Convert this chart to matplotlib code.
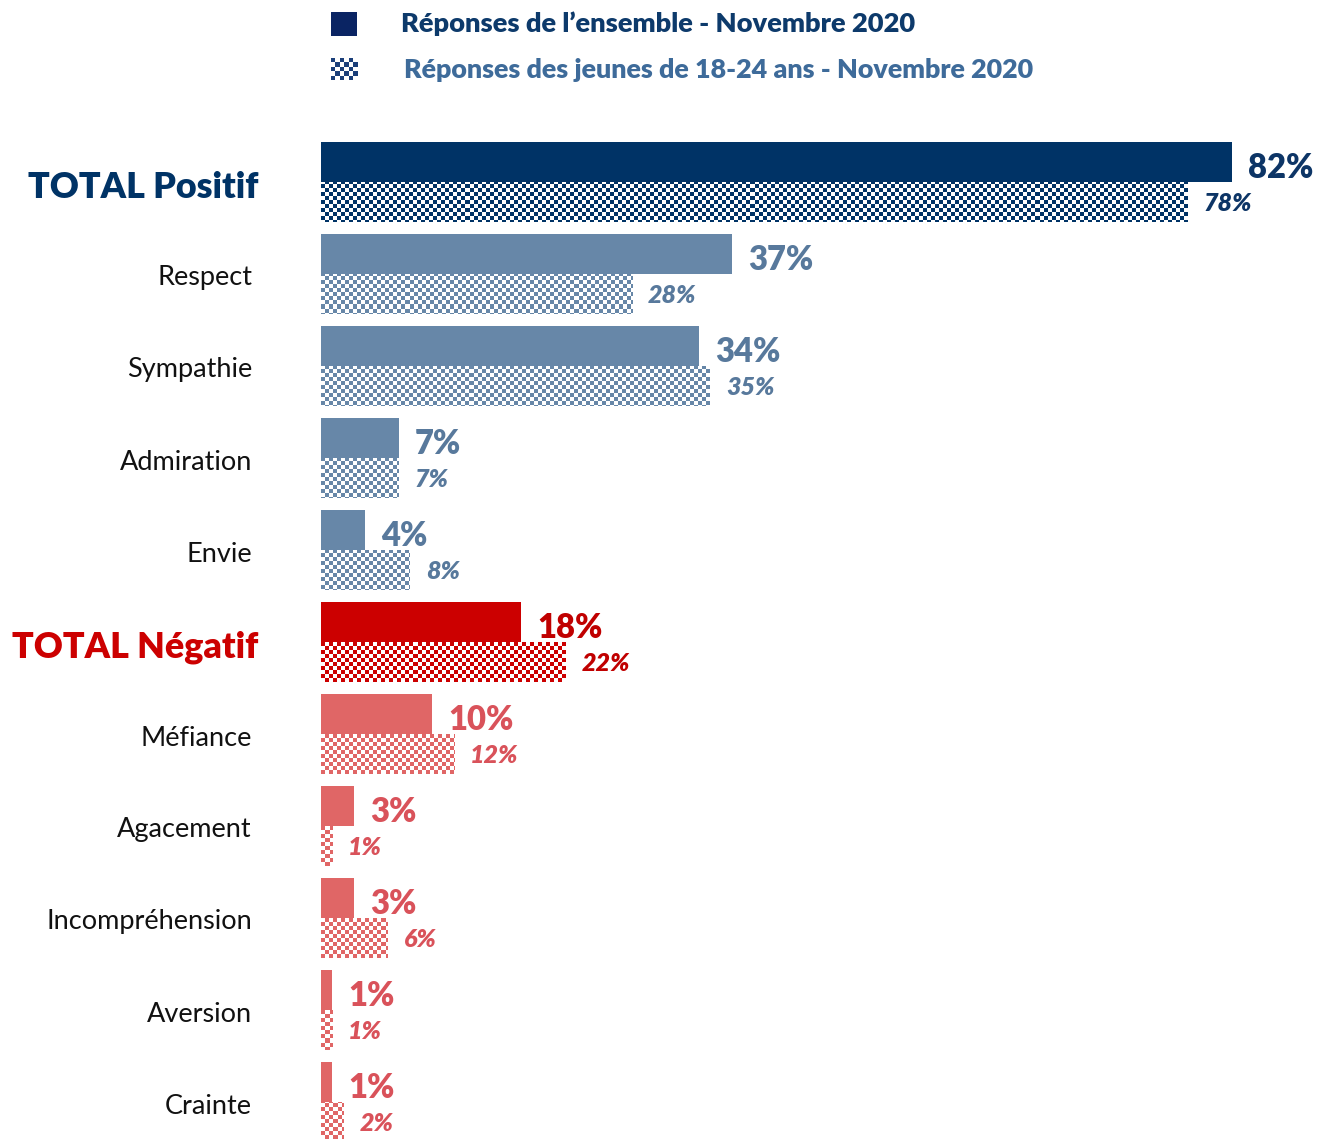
import numpy as np
import matplotlib
matplotlib.use("Agg")
import matplotlib.pyplot as plt

plt.rcParams['font.family'] = ['Lato', 'DejaVu Sans']

# data
categories = ["TOTAL Positif", "Respect", "Sympathie", "Admiration", "Envie",
              "TOTAL Négatif", "Méfiance", "Agacement", "Incompréhension",
              "Aversion", "Crainte"]
ensemble = [82, 37, 34, 7, 4, 18, 10, 3, 3, 1, 1]
jeunes = [78, 28, 35, 7, 8, 22, 12, 1, 6, 1, 2]
legend_labels = ["Réponses de l’ensemble - Novembre 2020",
                 "Réponses des jeunes de 18-24 ans - Novembre 2020"]

# colours per row
navy = '#003366'
steel = '#6787a8'
red = '#cc0000'
pink = '#e06666'
bar_colors = [navy] + [steel] * 4 + [red] + [pink] * 5
value_colors = ['#0d3566'] + ['#58799c'] * 4 + ['#c00000'] + ['#d9525a'] * 5

W, H = 1320, 1139
fig = plt.figure(figsize=(W / 100, H / 100), dpi=100)

# axes placed so that bars start at x=321 px, 11.11 px per percent
ax_left, ax_right = 321, 1320
ax_top, ax_bot = 136, 1139
ax = fig.add_axes([ax_left / W, 1 - ax_bot / H, (ax_right - ax_left) / W, (ax_bot - ax_top) / H])
px_per_pct = 911 / 82
xmax = (ax_right - ax_left) / px_per_pct
group_px = 92
n_groups = (ax_bot - ax_top) / group_px
ax.set_xlim(0, xmax)
ax.set_ylim(-0.5 + n_groups, -0.5)
ax.axis('off')

y = np.arange(len(categories))
h = 40 / group_px


def checker(color, nx, ny):
    rgb = np.array(matplotlib.colors.to_rgb(color))
    ii, jj = np.indices((ny, nx))
    mask = (ii + jj) % 2 == 0
    img = np.ones((ny, nx, 3))
    img[mask] = rgb
    return img


cell = 4  # px
nx = int((ax_right - ax_left) / cell)
ny = int((ax_bot - ax_top) / cell)

solid = ax.barh(y - h / 2, ensemble, height=h, color=bar_colors, linewidth=0)
hatched = ax.barh(y + h / 2, jeunes, height=h, color='white', linewidth=0)

for i, patch in enumerate(hatched):
    im = ax.imshow(checker(bar_colors[i], nx, ny), extent=(0, xmax, ax.get_ylim()[0], -0.5),
                   interpolation='nearest', aspect='auto', zorder=2)
    im.set_clip_path(patch)

gap = 16 / px_per_pct
for i in range(len(categories)):
    ax.text(ensemble[i] + gap, y[i] - h / 2 + 0.06, f"{ensemble[i]}%", color=value_colors[i],
            fontsize=23.6, fontweight='heavy', va='center', ha='left')
    ax.text(jeunes[i] + gap, y[i] + h / 2 + 0.02, f"{jeunes[i]}%", color=value_colors[i],
            fontsize=18, fontweight='heavy', fontstyle='italic', va='center', ha='left')

# category labels
for i, cat in enumerate(categories):
    ypx = 182 + i * group_px
    if cat.startswith("TOTAL"):
        fig.text(258 / W, 1 - (ypx + 5) / H, cat, ha='right', va='center',
                 fontsize=25.8, fontweight='heavy', color=navy if i == 0 else red)
    else:
        fig.text(252 / W, 1 - (ypx + 4) / H, cat, ha='right', va='center',
                 fontsize=19.5, color='#111111')

# legend
lax1 = fig.add_axes([331 / W, 1 - 36 / H, 26 / W, 24 / H])
lax1.add_patch(plt.Rectangle((0, 0), 1, 1, color='#0a2463'))
lax1.axis('off')
lax2 = fig.add_axes([331 / W, 1 - 80 / H, 26 / W, 22 / H])
lax2.imshow(checker('#1b3f7a', 6, 5), interpolation='nearest', aspect='auto')
lax2.axis('off')
fig.text(401 / W, 1 - 24 / H, legend_labels[0], ha='left', va='center',
         fontsize=19.6, fontweight='heavy', color='#0d3a6b')
fig.text(404 / W, 1 - 70 / H, legend_labels[1], ha='left', va='center',
         fontsize=19.4, fontweight='heavy', color='#3e6b9a')

fig.savefig("out.png", dpi=100)
